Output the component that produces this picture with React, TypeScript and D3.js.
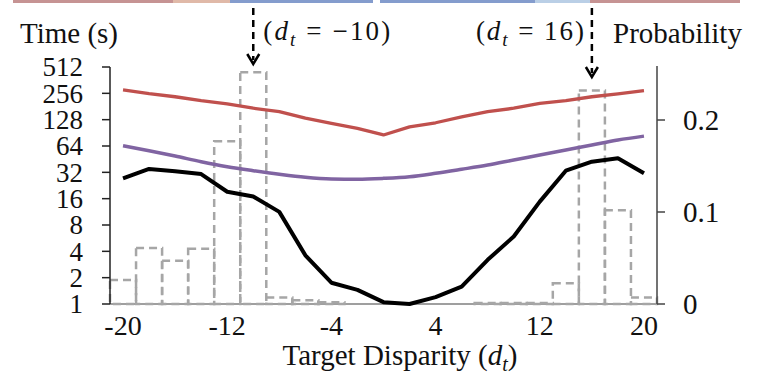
import React from 'react';
import * as d3 from 'd3';

// ---- data ----
const disparity = [-20, -18, -16, -14, -12, -10, -8, -6, -4, -2, 0, 2, 4, 6, 8, 10, 12, 14, 16, 18, 20];
const timeRed = [280, 254, 234, 211, 194, 173, 158, 133, 116, 102, 85.6, 106, 118, 138, 158, 173, 197, 211, 234, 252, 275];
const timePurple = [64.5, 56.6, 49.2, 42.3, 37.1, 33.4, 30.4, 28.1, 26.9, 26.7, 27.3, 28.5, 31.2, 34.7, 38.8, 44.3, 50.5, 57.6, 65.7, 75, 83];
const timeBlack = [27.3, 35, 33, 30.6, 19.2, 16.9, 11.3, 3.6, 1.75, 1.45, 1.05, 1.0, 1.2, 1.58, 3.2, 5.9, 14.8, 33.4, 42.4, 46.3, 31.2];
const probability = [0.026, 0.061, 0.047, 0.06, 0.177, 0.252, 0.007, 0.004, 0.002, 0, 0, 0, 0, 0, 0.001, 0.001, 0.001, 0.0225, 0.232, 0.102, 0.007];
const leftTicks = [1, 2, 4, 8, 16, 32, 64, 128, 256, 512];
const rightTicks = [0, 0.1, 0.2];
const xTicks = [-20, -12, -4, 4, 12, 20];
const annotations = [
  { d: -10, label: '−10', side: 'right' },
  { d: 16, label: '16', side: 'left' },
];

const W = 765;
const H = 374;

const FAM = 'Liberation Serif';

function T(props: any) {
  const { size, children, style, ...rest } = props;
  return (
    <text fontFamily={FAM} fontSize={size} fill="#111" style={{ fontFamily: `'${FAM}'`, fontSize: size, ...(style || {}) }} {...rest}>
      {children}
    </text>
  );
}

export default function App() {
  const x = d3.scaleLinear().domain([-21, 21]).range([110, 657]);
  const yL = d3.scaleLog().base(2).domain([1, 512]).range([304, 67]);
  const yR = d3.scaleLinear().domain([0, 0.2587]).range([304, 66]);

  const mkLine = (vals: number[], curve: d3.CurveFactory) =>
    d3
      .line<number>()
      .x((_, i) => x(disparity[i]))
      .y((v) => yL(v))
      .curve(curve)(vals) as string;

  const barGray = '#a6a6a6';

  return (
    <svg width={W} height={H} style={{ position: 'absolute', left: 0, top: 0 }}>
      <rect x={0} y={0} width={W} height={H} fill="#fff" />
      {/* top strip from neighbouring figure */}
      <rect x={13} y={0} width={160} height={3} fill="#b87878" opacity={0.8} />
      <rect x={173} y={0} width={57} height={3} fill="#d8a892" opacity={0.8} />
      <rect x={230} y={0} width={143} height={3} fill="#6583c0" opacity={0.8} />
      <rect x={380} y={0} width={155} height={3} fill="#6583c0" opacity={0.8} />
      <rect x={535} y={0} width={55} height={3} fill="#a9c3e0" opacity={0.8} />
      <rect x={590} y={0} width={150} height={3} fill="#b87878" opacity={0.8} />

      {/* bottom baseline */}
      <line x1={110} x2={657} y1={304} y2={304} stroke="#7f7f7f" strokeWidth={1.5} />

      {/* histogram */}
      {probability.map((p, i) =>
        p > 0 ? (
          <rect
            key={i}
            x={x(disparity[i] - 1)}
            y={yR(p)}
            width={x(disparity[i] + 1) - x(disparity[i] - 1)}
            height={yR(0) - yR(p)}
            fill="none"
            stroke={barGray}
            strokeWidth={2.5}
            strokeDasharray="8,5"
          />
        ) : null
      )}

      {/* lines */}
      <path d={mkLine(timeRed, d3.curveLinear)} fill="none" stroke="#c0504d" strokeWidth={3.3} strokeLinejoin="round" />
      <path d={mkLine(timePurple, d3.curveMonotoneX)} fill="none" stroke="#8064a2" strokeWidth={3.5} strokeLinejoin="round" />
      <path d={mkLine(timeBlack, d3.curveLinear)} fill="none" stroke="#000" strokeWidth={4} strokeLinejoin="round" />

      {/* left axis */}
      <line x1={110} x2={110} y1={yL(512)} y2={yL(1)} stroke="#222" strokeWidth={1.5} />
      {leftTicks.map((t) => (
        <g key={t}>
          <line x1={102} x2={110} y1={yL(t)} y2={yL(t)} stroke="#222" strokeWidth={1.5} />
          <T x={83} y={yL(t)} dy="0.34em" textAnchor="end" size={27}>
            {String(t)}
          </T>
        </g>
      ))}

      {/* right axis */}
      <line x1={657} x2={657} y1={66} y2={304} stroke="#444" strokeWidth={1.5} />
      {rightTicks.map((t) => (
        <g key={t}>
          <line x1={657} x2={665} y1={yR(t)} y2={yR(t)} stroke="#444" strokeWidth={1.5} />
          <T x={683} y={yR(t)} dy="0.34em" size={29}>
            {t === 0 ? '0' : t.toFixed(1)}
          </T>
        </g>
      ))}

      {/* x tick labels */}
      {xTicks.map((t) => (
        <T key={t} x={x(t)} y={335} textAnchor="middle" size={28}>
          {t < 0 ? '-' + Math.abs(t) : String(t)}
        </T>
      ))}

      {/* titles */}
      <T x={20} y={43} size={29}>Time (s)</T>
      <T x={613} y={43} size={29}>Probability</T>
      <T x={400} y={365} textAnchor="middle" size={29}>
        <tspan>Target Disparity (</tspan>
        <tspan fontStyle="italic">d</tspan>
        <tspan fontStyle="italic" fontSize={20} dy={6}>t</tspan>
        <tspan dy={-6}>)</tspan>
      </T>

      {/* annotations */}
      {annotations.map((a) => {
        const ax = x(a.d);
        const tip = a.side === 'right' ? 64 : 77;
        const len = a.side === 'right' ? 127 : 108;
        const tx = a.side === 'right' ? ax + 10 : ax - 8 - len;
        return (
          <g key={a.d}>
            <line x1={ax} x2={ax} y1={8} y2={tip - 4} stroke="#000" strokeWidth={2.5} strokeDasharray="7,5" />
            <path
              d={`M${ax - 6},${tip - 10} L${ax},${tip} L${ax + 6},${tip - 10}`}
              fill="none"
              stroke="#000"
              strokeWidth={2.5}
            />
            <T x={tx} y={40} size={27} textLength={len} lengthAdjust="spacing">
              <tspan>(</tspan>
              <tspan fontStyle="italic">d</tspan>
              <tspan fontStyle="italic" fontSize={19} dy={6}>t</tspan>
              <tspan dy={-6}>{` = ${a.label})`}</tspan>
            </T>
          </g>
        );
      })}
    </svg>
  );
}
